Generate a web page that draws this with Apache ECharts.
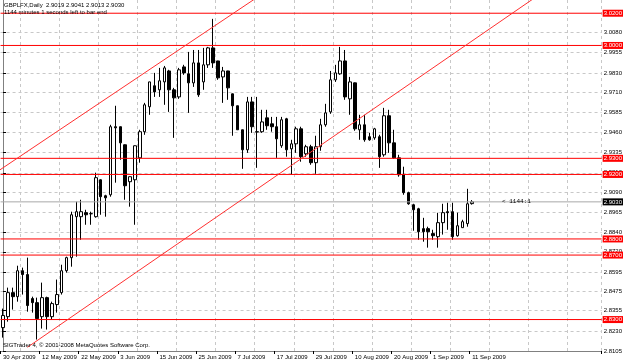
<!DOCTYPE html>
<html><head><meta charset="utf-8">
<script src="https://cdn.jsdelivr.net/npm/echarts@6/dist/echarts.min.js"></script>
<style>html,body{margin:0;padding:0;background:#fff}#c{width:625px;height:363px}</style>
</head><body><div id="c"></div>
<script>
// ---- data ----
const tradingDays = [
  ['Apr', [30]],
  ['May', [1,4,5,6,7,8,11,12,13,14,15,18,19,20,21,22,25,26,27,28,29]],
  ['Jun', [1,2,3,4,5,8,9,10,11,12,15,16,17,18,19,22,23,24,25,26,29,30]],
  ['Jul', [1,2,3,6,7,8,9,10,13,14,15,16,17,20,21,22,23,24,27,28,29,30,31]],
  ['Aug', [3,4,5,6,7,10,11,12,13,14,17,18,19,20,21,24,25,26,27,28,31]],
  ['Sep', [1,2,3,4,7,8,9,10,11]]
];
const dates = tradingDays.flatMap(([m, ds]) => ds.map(d => d + ' ' + m + ' 2009'));
const emptySlots = 26; // right-hand shift area

const open = [2.8250,2.8318,2.8467,2.8442,2.8603,2.8579,2.8430,2.8405,2.8318,2.8436,
2.8318,2.8393,2.8467,2.8603,2.8684,2.8938,2.8938,2.8963,2.8956,2.8938,
2.9167,2.9068,2.9074,2.9496,2.9496,2.9384,2.9155,2.9167,2.9303,2.9465,
2.9620,2.9750,2.9725,2.9774,2.9842,2.9725,2.9681,2.9867,2.9824,2.9768,
2.9892,2.9774,2.9880,2.9985,2.9904,2.9805,2.9842,2.9700,2.9626,2.9477,
2.9353,2.9650,2.9465,2.9465,2.9551,2.9514,2.9496,2.9378,2.9545,2.9359,
2.9390,2.9483,2.9328,2.9372,2.9273,2.9372,2.9508,2.9588,2.9787,2.9824,
2.9904,2.9669,2.9768,2.9477,2.9508,2.9434,2.9427,2.9434,2.9322,2.9564,
2.9396,2.9303,2.9198,2.9087,2.9012,2.8987,2.8864,2.8864,2.8833,2.8814,
2.8901,2.8969,2.8969,2.8820,2.8870,2.8895,2.9019];
const high = [2.8368,2.8498,2.8498,2.8634,2.8622,2.8684,2.8442,2.8436,2.8529,2.8442,
2.8411,2.8548,2.8640,2.8690,2.8969,2.9031,2.9043,2.8981,2.8969,2.9211,
2.9170,2.9074,2.9508,2.9626,2.9497,2.9386,2.9188,2.9380,2.9477,2.9644,
2.9775,2.9830,2.9861,2.9873,2.9849,2.9737,2.9861,2.9880,2.9960,2.9972,
2.9972,2.9985,2.9991,3.0165,2.9905,2.9867,2.9843,2.9702,2.9627,2.9478,
2.9681,2.9681,2.9681,2.9601,2.9601,2.9557,2.9557,2.9557,2.9551,2.9415,
2.9496,2.9496,2.9384,2.9384,2.9440,2.9545,2.9638,2.9842,2.9880,2.9991,
2.9972,2.9805,2.9770,2.9570,2.9570,2.9458,2.9489,2.9446,2.9613,2.9601,
2.9477,2.9322,2.9248,2.9093,2.9018,2.8993,2.8931,2.8876,2.8857,2.8962,
2.9018,2.9025,2.9025,2.8963,2.8919,2.9111,2.9041];
const low = [2.8188,2.8287,2.8362,2.8411,2.8455,2.8349,2.8343,2.8176,2.8244,2.8238,
2.8300,2.8343,2.8455,2.8591,2.8628,2.8690,2.8795,2.8888,2.8888,2.8932,
2.8950,2.8938,2.9062,2.9149,2.9291,2.9043,2.9000,2.8888,2.9273,2.9446,
2.9570,2.9681,2.9681,2.9632,2.9588,2.9427,2.9669,2.9818,2.9582,2.9743,
2.9681,2.9725,2.9861,2.9861,2.9787,2.9644,2.9663,2.9440,2.9477,2.9235,
2.9334,2.9458,2.9241,2.9458,2.9477,2.9465,2.9303,2.9365,2.9310,2.9198,
2.9334,2.9279,2.9310,2.9260,2.9204,2.9347,2.9496,2.9576,2.9774,2.9818,
2.9663,2.9570,2.9471,2.9415,2.9403,2.9409,2.9415,2.9241,2.9310,2.9334,
2.9297,2.9186,2.9074,2.9012,2.8851,2.8795,2.8783,2.8746,2.8795,2.8746,
2.8827,2.8857,2.8795,2.8814,2.8870,2.8876,2.9013];
const close = [2.8325,2.8467,2.8442,2.8603,2.8579,2.8387,2.8405,2.8306,2.8436,2.8318,
2.8399,2.8455,2.8603,2.8684,2.8950,2.8969,2.8969,2.8950,2.8957,2.9180,
2.9062,2.9055,2.9496,2.9489,2.9396,2.9130,2.9186,2.9378,2.9465,2.9632,
2.9774,2.9712,2.9781,2.9861,2.9725,2.9675,2.9849,2.9830,2.9768,2.9892,
2.9694,2.9880,2.9985,2.9892,2.9799,2.9842,2.9737,2.9626,2.9477,2.9353,
2.9650,2.9496,2.9463,2.9526,2.9502,2.9496,2.9421,2.9539,2.9353,2.9390,
2.9483,2.9310,2.9372,2.9273,2.9372,2.9508,2.9582,2.9787,2.9830,2.9904,
2.9681,2.9774,2.9483,2.9508,2.9415,2.9415,2.9483,2.9310,2.9564,2.9396,
2.9303,2.9198,2.9087,2.9018,2.8981,2.8845,2.8845,2.8845,2.8820,2.8901,
2.8963,2.8963,2.8814,2.8882,2.8907,2.9018,2.9030];

// horizontal price levels (red) and current bid
const levels = [3.0200, 3.0000, 2.9300, 2.9200, 2.8800, 2.8700, 2.8300];
const bid = 2.9030;
// trend lines as [bar index, price] anchor pairs
const upperTrend = [[-1, 2.9221], [60, 3.0461]];
const lowerTrend = [[5, 2.8128], [125, 3.0634]];
// right price scale labels
const priceTicks = [3.0080, 2.9955, 2.9830, 2.9710, 2.9585, 2.9460, 2.9335, 2.9210, 2.9090,
  2.8965, 2.8840, 2.8720, 2.8595, 2.8475, 2.8355, 2.8230, 2.8105];
const yMin = 2.8105, yMax = 3.0282;
const symbolName = 'GBPLFX', period = 'Daily';
const timerText = '1144 minutes 1 seconds left to bar end';
const timerShort = '< 1144:1';
const copyright = 'SIGTrader 4, \u00a9 2001-2008 MetaQuotes Software Corp.';

// ---- chart ----
const FONT = '"Liberation Sans", Arial, sans-serif';
const N = dates.length + emptySlots;
const cats = dates.concat(Array.from({length: emptySlots}, (_, i) => 'pad' + i));
const candles = open.map((o, i) => [o, close[i], low[i], high[i]]);
const last = open.length - 1;
const f4 = v => Number(v).toFixed(4);
const RED = '#ff0000';

// horizontal level lines: one line series each on the hidden value x-axis
const levelSeries = levels.map(v => ({
  type: 'line', xAxisIndex: 1, yAxisIndex: 0, symbol: 'none', silent: true, clip: false, z: 3,
  data: [[-0.5, v], [N - 0.5, v]],
  lineStyle: {color: RED, width: 1, type: 'solid'},
  endLabel: {show: true, distance: 1, formatter: () => f4(v), color: '#ffffff', backgroundColor: RED,
    fontSize: 6, fontFamily: FONT, padding: [1, 1, 0, 1]}
}));
const bidSeries = {
  type: 'line', xAxisIndex: 1, yAxisIndex: 0, symbol: 'none', silent: true, clip: false, z: 3,
  data: [[-0.5, bid], [N - 0.5, bid]],
  lineStyle: {color: '#a8a8a8', width: 1, type: 'solid'},
  endLabel: {show: true, distance: 1, formatter: () => f4(bid), color: '#ffffff', backgroundColor: '#000000',
    fontSize: 6, fontFamily: FONT, padding: [1, 1, 0, 1]}
};

const chart = echarts.init(document.getElementById('c'), null, {renderer: 'canvas'});
chart.setOption({
  animation: false,
  backgroundColor: '#ffffff',
  grid: {left: 0, right: 23, top: 0, bottom: 12, containLabel: false},
  xAxis: [{
    type: 'category', data: cats, boundaryGap: true,
    axisLine: {show: true, lineStyle: {color: '#808080', width: 1}},
    axisTick: {show: true, length: 3, interval: (i) => i % 8 === 0 && i < dates.length, lineStyle: {color: '#000'}},
    axisLabel: {show: true, interval: (i) => i % 8 === 0 && i < dates.length, align: 'left', margin: 3,
      fontSize: 6, color: '#000', fontFamily: FONT},
    splitLine: {show: true, interval: (i) => i % 8 === 4, lineStyle: {color: '#c8c8c8', type: [3, 3], width: 1}}
  }, {
    type: 'value', min: -0.5, max: N - 0.5, show: false
  }],
  yAxis: {
    type: 'value', position: 'right', min: yMin, max: yMax, scale: true,
    axisLine: {show: true, lineStyle: {color: '#808080', width: 1}},
    axisTick: {show: true, length: 3, customValues: priceTicks, lineStyle: {color: '#000'}},
    axisLabel: {show: true, customValues: priceTicks, formatter: f4, margin: 2,
      fontSize: 6, color: '#000', fontFamily: FONT},
    splitLine: {show: true, lineStyle: {color: '#c8c8c8', type: [3, 3], width: 1}}
  },
  series: [{
    type: 'candlestick', xAxisIndex: 0, yAxisIndex: 0, data: candles, barWidth: 3, z: 2,
    itemStyle: {color: '#ffffff', color0: '#000000', borderColor: '#000000', borderColor0: '#000000', borderWidth: 1}
  }, {
    type: 'line', xAxisIndex: 1, yAxisIndex: 0, data: upperTrend, symbol: 'none', clip: true,
    lineStyle: {color: '#ff3030', width: 1}, silent: true, z: 4
  }, {
    type: 'line', xAxisIndex: 1, yAxisIndex: 0, data: lowerTrend, symbol: 'none', clip: true,
    lineStyle: {color: '#ff3030', width: 1}, silent: true, z: 4
  }].concat(levelSeries, [bidSeries]),
  graphic: [
    {type: 'text', left: 4, top: 2, z: 100, style: {text: symbolName + ',' + period + '  ' + [open[last], high[last], low[last], close[last]].map(f4).join(' '),
      fill: '#000', font: '6px ' + FONT}},
    {type: 'text', left: 4, top: 9, z: 100, style: {text: timerText, fill: '#000', font: '6px ' + FONT}},
    {type: 'text', left: 3, top: 342, z: 100, style: {text: copyright, fill: '#000', font: '6px ' + FONT}},
    {type: 'text', left: 502, top: 198, z: 100, style: {text: timerShort, fill: '#000', font: '6px "Liberation Mono", "DejaVu Sans Mono", monospace'}}
  ]
});
</script>
</body></html>
